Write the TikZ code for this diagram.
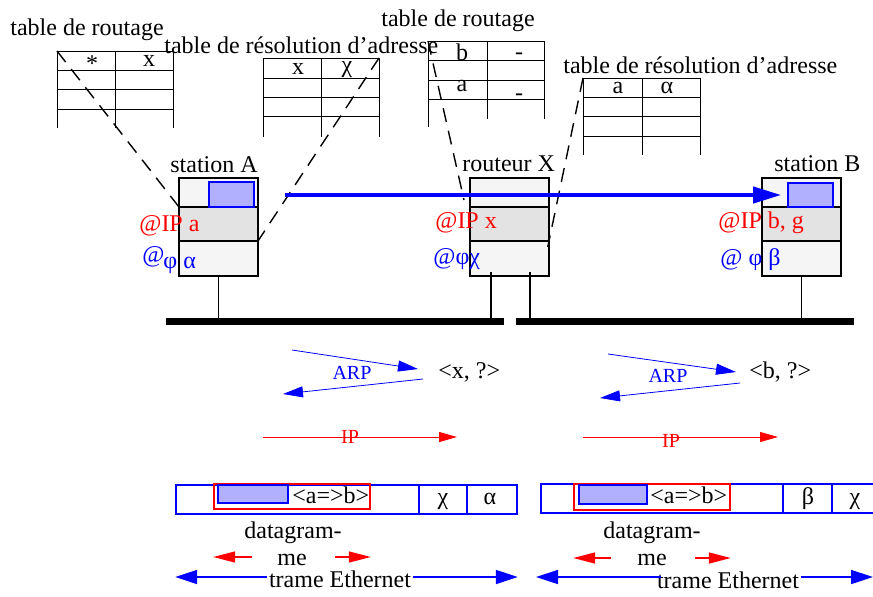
\documentclass[tikz,border=0pt]{standalone}
\usepackage{fontspec}
\setmainfont{Liberation Serif}
\usepackage{xcolor}
\usetikzlibrary{arrows.meta,positioning}
\definecolor{Lite}{HTML}{F5F5F5}
\definecolor{Mid}{HTML}{E3E3E3}
\definecolor{Payload}{HTML}{B0B0FF}
\definecolor{IpRed}{HTML}{FF0000}
\definecolor{EthBlue}{HTML}{0000FF}

\begin{document}
\begin{tikzpicture}[x=0.5pt,y=-0.5pt,font=\fontsize{12}{14}\selectfont,tab/.style={line width=0.5pt},lbl/.style={anchor=base west,inner sep=0pt},cell/.style={inner sep=0pt},tag/.style={anchor=base,inner sep=0pt,font=\fontsize{10}{12}\selectfont},stlayer/.style={draw,line width=0.8pt,minimum width=39.5pt,inner sep=0pt,outer sep=0pt},toplayer/.style={stlayer,fill=Lite,minimum height=14.5pt},iplayer/.style={stlayer,fill=Mid,minimum height=17pt},phylayer/.style={stlayer,fill=Lite,minimum height=17.5pt},payload/.style={draw=EthBlue,fill=Payload,line width=0.8pt,inner sep=0pt},bus/.style={fill=black,minimum width=169pt,minimum height=3.5pt,inner sep=0pt},stem/.style={line width=0.9pt},lookup/.style={dash pattern=on 7pt off 4.5pt,line width=0.7pt},flow/.style={-{Triangle[length=14pt,width=8pt]},draw=EthBlue,line width=2pt},arp/.style={-{Triangle[length=10pt,width=5.5pt]},draw=EthBlue,line width=0.4pt},ip/.style={-{Triangle[length=9pt,width=5pt]},draw=IpRed,line width=0.5pt},ethframe/.style={draw=EthBlue,line width=0.8pt,inner sep=0pt},dgbox/.style={draw=IpRed,line width=0.8pt,inner sep=0pt},dgspan/.style={-{Triangle[length=11pt,width=5.5pt]},draw=IpRed,line width=0.7pt},ethspan/.style={-{Triangle[length=11pt,width=7pt]},draw=EthBlue,line width=0.8pt}]
\useasboundingbox (0,0) rectangle (873,596);
% tables of station A and router X
\node[lbl] (rtAlabel) at (10,35){table de routage};
\draw[tab] (57,51) -- (173,51) (57,70) -- (173,70) (57,89) -- (173,89) (57,109) -- (173,109) (57,51) -- (57,128) (115,51) -- (115,128) (173,51) -- (173,128);
\coordinate (rtA) at (57,51);
\node[cell] (rtA1) at (92,64){*};\node[cell] (rtA2) at (149,61){x};
\node[lbl] (arpAlabel) at (164,53){table de résolution d’adresse};
\draw[tab] (263,58) -- (379,58) (263,78) -- (379,78) (263,97) -- (379,97) (263,116) -- (379,116) (263,58) -- (263,137) (321,58) -- (321,137) (379,58) -- (379,137);
\coordinate (arpA) at (379,58);
\node[cell] (arpA1) at (298,69){x};\node[cell] (arpA2) at (347,70){χ};
\node[lbl] (rtXlabel) at (381,26){table de routage};
\draw[tab] (428,41) -- (544,41) (428,60) -- (544,60) (428,80) -- (544,80) (428,99) -- (544,99) (428,41) -- (428,127) (487,41) -- (487,119) (544,41) -- (544,119);
\coordinate (rtX) at (428,41);
\node[cell] (rtX1) at (462,52){b};\node[cell] (rtX2) at (519,56){-};\node[cell] (rtX3) at (462,86){a};\node[cell] (rtX4) at (519,97){-};
\node[lbl] (arpXlabel) at (563,73){table de résolution d’adresse};
\draw[tab] (583,78) -- (700,78) (583,97) -- (700,97) (583,116) -- (700,116) (583,136) -- (700,136) (583,78) -- (583,155) (642,78) -- (642,155) (700,78) -- (700,155);
\coordinate (arpX) at (583,78);
\node[cell] (arpX1) at (618,88){a};\node[cell] (arpX2) at (667,88){α};
% stations and router
\node[toplayer] (Atop) at (218.5,192.5){};\node[iplayer,below=0pt of Atop] (Aip){};\node[phylayer,below=0pt of Aip] (Aphy){};
\node[payload,minimum width=22.5pt,minimum height=12.5pt] (Adata) at (231.5,194.5){};
\node[toplayer] (Xtop) at (509.5,192.5){};\node[iplayer,below=0pt of Xtop] (Xip){};\node[phylayer,below=0pt of Xip] (Xphy){};
\node[toplayer] (Btop) at (801.5,192.5){};\node[iplayer,below=0pt of Btop] (Bip){};\node[phylayer,below=0pt of Bip] (Bphy){};
\node[payload,minimum width=22.5pt,minimum height=12pt] (Bdata) at (810.5,195){};
\node[lbl] (Aname) at (170,172){station A};
\node[lbl,text=IpRed] (Aipaddr) at (139,231){@IP a};
\node[lbl,text=EthBlue] (Aat) at (142,262){@};\node[lbl,text=EthBlue] (Aphyaddr) at (163,268){φ α};
\node[lbl] (Xname) at (462,171){routeur X};
\node[lbl,text=IpRed] (Xipaddr) at (435,228){@IP x};
\node[lbl,text=EthBlue] (Xphyaddr) at (433,264){@φχ};
\node[lbl] (Bname) at (774,171){station B};
\node[lbl,text=IpRed] (Bipaddr) at (718,228){@IP b, g};
\node[lbl,text=EthBlue] (Bphyaddr) at (720,265){@ φ β};
% the two Ethernet segments
\node[bus] (busL) at (335,321.5){};\node[bus] (busR) at (685,321.5){};
\draw[stem] (Aphy.south) -- (Aphy.south |- busL.north);
\draw[stem] ([xshift=-9.25pt,yshift=2pt]Xphy.south) coordinate (Xs1) -- (Xs1 |- busL.north);
\draw[stem] ([xshift=10.25pt,yshift=2pt]Xphy.south) coordinate (Xs2) -- (Xs2 |- busR.north);
\draw[stem] (Bphy.south) -- (Bphy.south |- busR.north);
% table lookups
\coordinate (Xhit) at (464,200);
\draw[lookup,shorten >=-4pt] (rtA) -- (Aip.north west);
\draw[lookup] (arpA) -- (Aip.south east);
\draw[lookup] (rtX) -- (Xhit);
\draw[lookup,shorten >=-3pt] (arpX) -- (Xip.south east);
\coordinate (sendA) at (285,195);
\draw[flow,shorten >=3pt] (sendA) -- (Bdata.west);
% ARP and IP exchanges
\coordinate (arpA3) at (292,350);\coordinate (arpA4) at (418,369);\coordinate (arpA5) at (423,379);\coordinate (arpA6) at (283,394);
\draw[arp] (arpA3) -- (arpA4);\draw[arp] (arpA5) -- (arpA6);
\node[tag,text=EthBlue] (arpAtag) at (352,379){ARP};
\node[lbl] (queryA) at (438,378){<x, ?>};
\coordinate (arpX3) at (608,354);\coordinate (arpX4) at (736,372);\coordinate (arpX5) at (740,383);\coordinate (arpX6) at (600,398);
\draw[arp] (arpX3) -- (arpX4);\draw[arp] (arpX5) -- (arpX6);
\node[tag,text=EthBlue] (arpXtag) at (668,382){ARP};
\node[lbl] (queryX) at (749,378){<b, ?>};
\coordinate (ipA1) at (263,437);\coordinate (ipA2) at (457,437);\draw[ip] (ipA1) -- (ipA2);
\node[tag,text=IpRed] (ipAtag) at (350,443){IP};
\coordinate (ipX1) at (583,437);\coordinate (ipX2) at (778,437);\draw[ip] (ipX1) -- (ipX2);
\node[tag,text=IpRed] (ipXtag) at (671,447){IP};
% frames
\node[ethframe,minimum width=170.5pt,minimum height=14.5pt] (frameA) at (346.5,499.5){};
\draw[ethframe] (419,485) -- (419,514) (467,485) -- (467,514);
\node[dgbox,minimum width=78pt,minimum height=12.5pt] (dgA) at (292,496.5){};
\node[payload,minimum width=35pt,minimum height=9pt] (dataA) at (253,494){};
\node[lbl] (hdrA) at (292,503){<a=>b>};
\node[cell,anchor=base] (dstA) at (443,504){χ};\node[cell,anchor=base] (srcA) at (490,504){α};
\node[ethframe,minimum width=169.5pt,minimum height=14.5pt] (frameX) at (710.5,498.5){};
\draw[ethframe] (783,484) -- (783,513) (832,484) -- (832,513);
\node[dgbox,minimum width=78pt,minimum height=13pt] (dgX) at (652,497){};
\node[payload,minimum width=34pt,minimum height=9.5pt] (dataX) at (613,494.5){};
\node[lbl] (hdrX) at (650,503){<a=>b>};
\node[cell,anchor=base] (dstX) at (808,504){β};\node[cell,anchor=base] (srcX) at (855,504){χ};
% extents
\node[lbl] (dgAtxt1) at (244,538){datagram-};\node[lbl] (dgAtxt2) at (277,565){me};
\coordinate (dgA1) at (252,557);\coordinate (dgA2) at (335,557);
\draw[dgspan] (dgA1) -- (dgA.west |- dgA1);\draw[dgspan] (dgA2) -- (dgA.east |- dgA2);
\node[lbl] (dgXtxt1) at (603,538){datagram-};\node[lbl] (dgXtxt2) at (637,565){me};
\coordinate (dgX1) at (611,558);\coordinate (dgX2) at (695,558);
\draw[dgspan] (dgX1) -- (dgX.west |- dgX1);\draw[dgspan] (dgX2) -- (dgX.east |- dgX2);
\node[anchor=base,inner sep=1pt] (trameA) at (340,587){trame Ethernet};
\coordinate (tA) at (340,577);
\draw[ethspan] (trameA.west |- tA) -- (frameA.west |- tA);\draw[ethspan] (trameA.east |- tA) -- (frameA.east |- tA);
\node[anchor=base,inner sep=1pt] (trameX) at (728,588){trame Ethernet};
\coordinate (tX1) at (536,577);\coordinate (tX2) at (873,577);
\draw[ethspan,shorten <=-3pt] (trameX.west |- tX1) -- (tX1);\draw[ethspan] (trameX.east |- tX2) -- (tX2);
\end{tikzpicture}
\end{document}
